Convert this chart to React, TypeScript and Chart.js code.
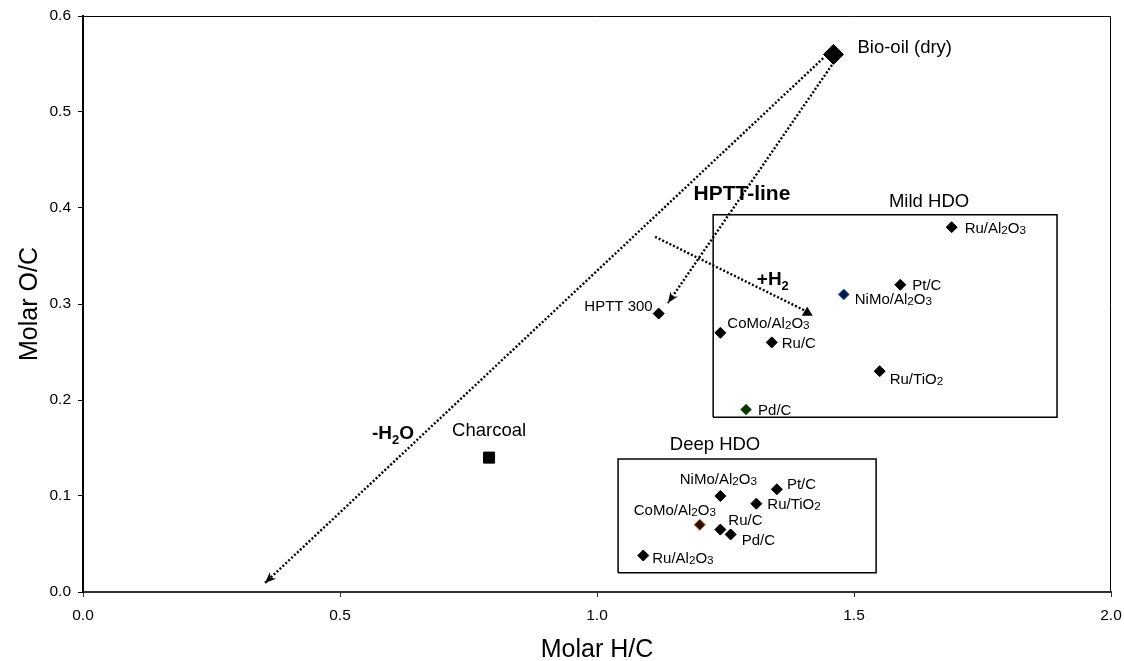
import React, { useEffect, useRef } from "react";
import { Chart, registerables } from "chart.js";

Chart.register(...registerables);

const FONT = '"Liberation Sans", Arial, Helvetica, sans-serif';

// ---------- data ----------
const bioOilHC = [1.46];
const bioOilOC = [0.56];
const charcoalHC = [0.79];
const charcoalOC = [0.14];
const hpttHC = [1.12];
const hpttOC = [0.29];

const mildCatalysts = ["Ru/Al2O3", "Pt/C", "NiMo/Al2O3", "CoMo/Al2O3", "Ru/C", "Ru/TiO2", "Pd/C"];
const mildHC = [1.69, 1.59, 1.48, 1.24, 1.34, 1.55, 1.29];
const mildOC = [0.38, 0.32, 0.31, 0.27, 0.26, 0.23, 0.19];

const deepCatalysts = ["NiMo/Al2O3", "Pt/C", "Ru/TiO2", "CoMo/Al2O3", "Ru/C", "Pd/C", "Ru/Al2O3"];
const deepHC = [1.24, 1.35, 1.31, 1.2, 1.24, 1.26, 1.09];
const deepOC = [0.1, 0.107, 0.092, 0.07, 0.065, 0.06, 0.038];

// arrows (start -> tip)
const dehydrationHC = [1.44, 0.354];
const dehydrationOC = [0.556, 0.0094];
const hpttLineHC = [1.457, 1.138];
const hpttLineOC = [0.549, 0.301];
const hydrogenHC = [1.113, 1.409];
const hydrogenOC = [0.37, 0.292];

// group boxes [min, max]
const mildBoxHC = [1.226, 1.895];
const mildBoxOC = [0.182, 0.393];
const deepBoxHC = [1.041, 1.543];
const deepBoxOC = [0.02, 0.1385];

const xTicks = [0, 0.5, 1.0, 1.5, 2.0];
const yTicks = [0, 0.1, 0.2, 0.3, 0.4, 0.5, 0.6];

// ---------- styles / label placement ----------
const mildFill = ["#000", "#000", "#001a4d", "#000", "#000", "#000", "#0d3300"];
const mildBorder = ["#000", "#000", "#3a6fb0", "#000", "#000", "#000", "#3d7a3d"];
const deepFill = ["#000", "#000", "#000", "#2a0e00", "#000", "#000", "#000"];
const deepBorder = ["#000", "#000", "#000", "#c2571a", "#000", "#000", "#000"];

type Off = [number, number, "left" | "center" | "right"];
const mildLabelOffsets: Off[] = [
  [13, 0, "left"], [12, 0, "left"], [11, 4, "left"], [7, -10, "left"],
  [10, 0, "left"], [10, 7, "left"], [12, 0, "left"],
];
const deepLabelOffsets: Off[] = [
  [-2, -17, "center"], [10, -6, "left"], [11, 0, "left"], [-25, -15, "center"],
  [8, -10, "left"], [11, 5, "left"], [9, 2, "left"],
];

const pts = (xs: number[], ys: number[]) => xs.map((x, i) => ({ x, y: ys[i] }));
const boxPts = (xs: number[], ys: number[]) => [
  { x: xs[0], y: ys[0] }, { x: xs[1], y: ys[0] }, { x: xs[1], y: ys[1] },
  { x: xs[0], y: ys[1] }, { x: xs[0], y: ys[0] },
];

type Seg = { t: string; small: boolean };
function splitSegs(text: string): Seg[] {
  const segs: Seg[] = [];
  let prevSmall = false;
  for (let i = 0; i < text.length; i++) {
    const ch = text[i];
    const prev = i > 0 ? text[i - 1] : "";
    const small = /[0-9]/.test(ch) && (/[A-Za-z]/.test(prev) || (prevSmall && /[0-9]/.test(prev)));
    const last = segs[segs.length - 1];
    if (last && last.small === small) last.t += ch;
    else segs.push({ t: ch, small });
    prevSmall = small;
  }
  return segs;
}

function drawRich(
  ctx: CanvasRenderingContext2D, text: string, x: number, y: number,
  o: { size: number; bold?: boolean; align?: string; subScale: number; subDrop: number }
) {
  const weight = o.bold ? "bold " : "";
  const big = `${weight}${o.size}px ${FONT}`;
  const small = `${weight}${o.size * o.subScale}px ${FONT}`;
  const segs = splitSegs(text);
  let total = 0;
  const widths = segs.map((s) => {
    ctx.font = s.small ? small : big;
    const w = ctx.measureText(s.t).width;
    total += w;
    return w;
  });
  let cx = o.align === "center" ? x - total / 2 : o.align === "right" ? x - total : x;
  const base = y + o.size * 0.36;
  ctx.textAlign = "left";
  ctx.textBaseline = "alphabetic";
  ctx.fillStyle = "#000";
  segs.forEach((s, i) => {
    ctx.font = s.small ? small : big;
    ctx.fillText(s.t, cx, base + (s.small ? o.subDrop : 0));
    cx += widths[i];
  });
}

export default function App() {
  const ref = useRef<HTMLCanvasElement>(null);

  useEffect(() => {
    const canvas = ref.current!;

    const overlay = {
      id: "overlay",
      afterDatasetsDraw(chart: any) {
        const ctx: CanvasRenderingContext2D = chart.ctx;
        const xs = chart.scales.x;
        const ys = chart.scales.y;
        const area = chart.chartArea;
        ctx.save();

        // frame (top and right)
        ctx.strokeStyle = "#000";
        ctx.lineWidth = 1;
        ctx.beginPath();
        ctx.moveTo(area.left, area.top + 0.5);
        ctx.lineTo(area.right - 0.5, area.top + 0.5);
        ctx.lineTo(area.right - 0.5, area.bottom);
        ctx.stroke();

        // arrowheads
        const head = (hx: number[], hy: number[]) => {
          const x1 = xs.getPixelForValue(hx[0]), y1 = ys.getPixelForValue(hy[0]);
          const x2 = xs.getPixelForValue(hx[1]), y2 = ys.getPixelForValue(hy[1]);
          const a = Math.atan2(y2 - y1, x2 - x1);
          const L = 11, W = 4.5;
          ctx.fillStyle = "#000";
          ctx.beginPath();
          ctx.moveTo(x2, y2);
          ctx.lineTo(x2 - L * Math.cos(a) + W * Math.sin(a), y2 - L * Math.sin(a) - W * Math.cos(a));
          ctx.lineTo(x2 - L * 0.7 * Math.cos(a), y2 - L * 0.7 * Math.sin(a));
          ctx.lineTo(x2 - L * Math.cos(a) - W * Math.sin(a), y2 - L * Math.sin(a) + W * Math.cos(a));
          ctx.closePath();
          ctx.fill();
        };
        head(dehydrationHC, dehydrationOC);
        head(hpttLineHC, hpttLineOC);
        {
          const tx = xs.getPixelForValue(hydrogenHC[1]);
          const ty = ys.getPixelForValue(hydrogenOC[1]);
          ctx.fillStyle = "#000";
          ctx.beginPath();
          ctx.moveTo(tx - 5.5, ty + 4);
          ctx.lineTo(tx + 5.5, ty + 4);
          ctx.lineTo(tx, ty - 5);
          ctx.closePath();
          ctx.fill();
        }

        // point labels
        const lbl = { size: 15, subScale: 0.78, subDrop: 1 };
        const labelSet = (dsIndex: number, names: string[], offs: Off[]) => {
          const meta = chart.getDatasetMeta(dsIndex);
          names.forEach((n, i) => {
            const el = meta.data[i];
            const [dx, dy, al] = offs[i];
            drawRich(ctx, n, el.x + dx, el.y + dy, { ...lbl, align: al });
          });
        };
        labelSet(3, mildCatalysts, mildLabelOffsets);
        labelSet(4, deepCatalysts, deepLabelOffsets);
        {
          const b = chart.getDatasetMeta(0).data[0];
          drawRich(ctx, "Bio-oil (dry)", b.x + 24, b.y - 8, { size: 18.5, subScale: 1, subDrop: 0, align: "left" });
          const c = chart.getDatasetMeta(1).data[0];
          drawRich(ctx, "Charcoal", c.x, c.y - 28, { size: 18.5, subScale: 1, subDrop: 0, align: "center" });
          const h = chart.getDatasetMeta(2).data[0];
          drawRich(ctx, "HPTT 300", h.x - 6, h.y - 8, { size: 15, subScale: 1, subDrop: 0, align: "right" });
        }

        // annotation texts (data coords)
        const at = (vx: number, vy: number) => [xs.getPixelForValue(vx), ys.getPixelForValue(vy)];
        let p = at(1.646, 0.408);
        drawRich(ctx, "Mild HDO", p[0], p[1], { size: 18.5, subScale: 1, subDrop: 0, align: "center" });
        p = at(1.2296, 0.155);
        drawRich(ctx, "Deep HDO", p[0], p[1], { size: 18.5, subScale: 1, subDrop: 0, align: "center" });
        p = at(1.282, 0.4167);
        drawRich(ctx, "HPTT-line", p[0], p[1], { size: 21, bold: true, subScale: 1, subDrop: 0, align: "center" });
        p = at(1.342, 0.327);
        drawRich(ctx, "+H2", p[0], p[1], { size: 19, bold: true, subScale: 0.68, subDrop: 5, align: "center" });
        p = at(0.603, 0.1667);
        drawRich(ctx, "-H2O", p[0], p[1], { size: 19, bold: true, subScale: 0.68, subDrop: 5, align: "center" });

        // axis titles
        ctx.fillStyle = "#000";
        ctx.font = `25px ${FONT}`;
        ctx.textAlign = "center";
        ctx.textBaseline = "middle";
        ctx.fillText("Molar H/C", (area.left + area.right) / 2, 650);
        ctx.save();
        ctx.translate(30, (area.top + area.bottom) / 2);
        ctx.rotate(-Math.PI / 2);
        ctx.fillText("Molar O/C", 0, 0);
        ctx.restore();

        ctx.restore();
      },
    };

    const dotted = (d: { x: number; y: number }[]) => ({
      data: d,
      showLine: true,
      borderColor: "#000",
      borderWidth: 2.4,
      borderDash: [2, 2],
      pointRadius: 0,
      fill: false,
      tension: 0,
    });
    const box = (d: { x: number; y: number }[]) => ({
      data: d,
      showLine: true,
      borderColor: "#000",
      borderWidth: 1.5,
      pointRadius: 0,
      fill: false,
      tension: 0,
    });

    const chart = new Chart(canvas, {
      type: "scatter",
      data: {
        datasets: [
          { data: pts(bioOilHC, bioOilOC), pointStyle: "rectRot", pointRadius: 10, backgroundColor: "#000", borderColor: "#000", borderWidth: 1 } as any,
          { data: pts(charcoalHC, charcoalOC), pointStyle: "rect", pointRadius: 7.8, backgroundColor: "#000", borderColor: "#000", borderWidth: 1 },
          { data: pts(hpttHC, hpttOC), pointStyle: "rectRot", pointRadius: 5.5, backgroundColor: "#000", borderColor: "#000", borderWidth: 1 },
          { data: pts(mildHC, mildOC), pointStyle: "rectRot", pointRadius: 5.5, backgroundColor: mildFill, borderColor: mildBorder, borderWidth: 1 },
          { data: pts(deepHC, deepOC), pointStyle: "rectRot", pointRadius: 5.5, backgroundColor: deepFill, borderColor: deepBorder, borderWidth: 1 },
          dotted(pts(dehydrationHC, dehydrationOC)),
          dotted(pts(hpttLineHC, hpttLineOC)),
          dotted(pts(hydrogenHC, hydrogenOC)),
          box(boxPts(mildBoxHC, mildBoxOC)),
          box(boxPts(deepBoxHC, deepBoxOC)),
        ],
      },
      options: {
        responsive: false,
        animation: false,
        devicePixelRatio: 1,
        events: [],
        layout: { padding: { top: 16, right: 13, left: 0, bottom: 0 } },
        plugins: { legend: { display: false }, tooltip: { enabled: false } },
        scales: {
          x: {
            type: "linear",
            min: 0,
            max: 2,
            afterBuildTicks: (s: any) => { s.ticks = xTicks.map((v) => ({ value: v })); },
            afterFit: (s: any) => { s.height = 69; s.paddingLeft = 0; s.paddingRight = 0; },
            ticks: { color: "#000", font: { size: 15.5, family: FONT }, padding: 9, callback: (v: any) => Number(v).toFixed(1) },
            grid: { drawOnChartArea: false, drawTicks: true, tickLength: 5, color: "#333" },
            border: { display: true, color: "#333", width: 2 },
          },
          y: {
            type: "linear",
            min: 0,
            max: 0.6,
            afterBuildTicks: (s: any) => { s.ticks = yTicks.map((v) => ({ value: v })); },
            afterFit: (s: any) => { s.width = 83; s.paddingTop = 0; s.paddingBottom = 0; },
            ticks: { color: "#000", font: { size: 15.5, family: FONT }, padding: 7, callback: (v: any) => Number(v).toFixed(1) },
            grid: { drawOnChartArea: false, drawTicks: true, tickLength: 5, color: "#000" },
            border: { display: true, color: "#000", width: 2 },
          },
        },
      },
      plugins: [overlay],
    } as any);

    return () => chart.destroy();
  }, []);

  return (
    <div style={{ position: "absolute", left: 0, top: 0, width: 1124, height: 661, background: "#fff" }}>
      <canvas ref={ref} width={1124} height={661} style={{ display: "block" }} />
    </div>
  );
}
